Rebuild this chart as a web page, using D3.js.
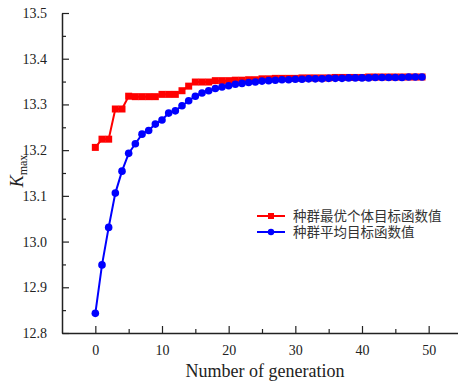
<!DOCTYPE html>
<html lang="zh">
<head>
    <meta charset="UTF-8">
    <script src="https://cdn.jsdelivr.net/npm/d3@7"></script>
    <title>Kmax convergence</title>
    <style>
        * { margin: 0; padding: 0; }
        body { background: #fff; width: 458px; height: 384px; overflow: hidden; }
        svg { display: block; }
        .tick text { font-family: "Liberation Serif", "Times New Roman", serif; font-size: 14px; fill: #222; }
    </style>
</head>
<body>
    <svg id="chart" width="458" height="384"></svg>
    <script>
      // values
      var generations = d3.range(0, 50);
      var bestValues = [
        13.206, 13.224, 13.224, 13.290, 13.290, 13.318, 13.317, 13.317, 13.317, 13.317,
        13.322, 13.322, 13.322, 13.330, 13.340, 13.349, 13.349, 13.349, 13.352, 13.352,
        13.352, 13.353, 13.353, 13.354, 13.354, 13.356, 13.356, 13.357, 13.357, 13.357,
        13.357, 13.358, 13.358, 13.358, 13.358, 13.358, 13.359, 13.359, 13.359, 13.359,
        13.359, 13.360, 13.360, 13.360, 13.360, 13.360, 13.360, 13.360, 13.360, 13.360
      ];
      var meanValues = [
        12.843, 12.949, 13.031, 13.106, 13.154, 13.193, 13.214, 13.235, 13.243, 13.257,
        13.266, 13.281, 13.286, 13.297, 13.308, 13.318, 13.325, 13.330, 13.335, 13.338,
        13.341, 13.344, 13.346, 13.348, 13.349, 13.351, 13.352, 13.353, 13.354, 13.354,
        13.355, 13.355, 13.356, 13.356, 13.356, 13.357, 13.357, 13.357, 13.358, 13.358,
        13.358, 13.358, 13.359, 13.359, 13.359, 13.359, 13.359, 13.360, 13.360, 13.360
      ];
      var xTicks = [0, 10, 20, 30, 40, 50];
      var yTicks = [12.8, 12.9, 13.0, 13.1, 13.2, 13.3, 13.4, 13.5];
      var seriesNames = ['种群最优个体目标函数值', '种群平均目标函数值'];

      var svg = d3.select('#chart');
      var plotLeft = 62, plotRight = 462, plotTop = 13, plotBottom = 333;

      var x = d3.scaleLinear().domain([-5, 55]).range([plotLeft, plotRight]);
      var y = d3.scaleLinear().domain([12.8, 13.5]).range([plotBottom, plotTop]);

      // minor ticks first, no labels
      svg.append('g')
        .attr('transform', 'translate(0,' + plotBottom + ')')
        .call(d3.axisBottom(x).tickValues([5, 15, 25, 35, 45]).tickSize(-4).tickFormat(''))
        .call(function (g) { g.select('.domain').remove(); g.selectAll('line').attr('stroke', '#222').attr('stroke-width', 1.2); });
      svg.append('g')
        .attr('transform', 'translate(' + plotLeft + ',0)')
        .call(d3.axisLeft(y).tickValues(d3.range(0, 7).map(function (i) { return 12.85 + i * 0.1; })).tickSize(-4).tickFormat(''))
        .call(function (g) { g.select('.domain').remove(); g.selectAll('line').attr('stroke', '#222').attr('stroke-width', 1.2); });

      var xAxis = svg.append('g')
        .attr('transform', 'translate(0,' + plotBottom + ')')
        .call(d3.axisBottom(x).tickValues(xTicks).tickSize(-7).tickPadding(12).tickSizeOuter(0));
      var yAxis = svg.append('g')
        .attr('transform', 'translate(' + plotLeft + ',0)')
        .call(d3.axisLeft(y).tickValues(yTicks).tickSize(-7).tickPadding(15).tickSizeOuter(0).tickFormat(d3.format('.1f')));

      [xAxis, yAxis].forEach(function (g) {
        g.select('.domain').attr('stroke', '#222').attr('stroke-width', 1.5);
        g.selectAll('.tick line').attr('stroke', '#222').attr('stroke-width', 1.2);
      });

      // axis titles
      svg.append('text')
        .attr('x', 265)
        .attr('y', 377)
        .attr('text-anchor', 'middle')
        .style('font-family', '"Liberation Serif", "Times New Roman", serif')
        .style('font-size', '18px')
        .attr('fill', '#222')
        .text('Number of generation');

      var yTitle = svg.append('text')
        .attr('transform', 'translate(23,171) rotate(-90)')
        .attr('text-anchor', 'middle')
        .style('font-family', '"Liberation Serif", "Times New Roman", serif')
        .attr('fill', '#222');
      yTitle.append('tspan').style('font-style', 'italic').style('font-size', '18px').text('K');
      yTitle.append('tspan').attr('dy', 4).style('font-size', '12px').text('max');

      var series = [
        { name: seriesNames[0], values: bestValues, color: '#ff0000', shape: 'square' },
        { name: seriesNames[1], values: meanValues, color: '#0000ff', shape: 'circle' }
      ];

      var line = d3.line()
        .x(function (d, i) { return x(generations[i]); })
        .y(function (d) { return y(d); });

      function drawMarker(sel, shape, color) {
        if (shape === 'square') {
          sel.append('rect')
            .attr('x', -3.5).attr('y', -3.5).attr('width', 7).attr('height', 7)
            .attr('fill', color);
        } else {
          sel.append('circle').attr('r', 3.8).attr('fill', color);
        }
      }

      series.forEach(function (s) {
        svg.append('path')
          .datum(s.values)
          .attr('d', line)
          .attr('fill', 'none')
          .attr('stroke', s.color)
          .attr('stroke-width', 2);
      });
      // blue drawn over red like the reference
      series.forEach(function (s) {
        s.values.forEach(function (v, i) {
          var m = svg.append('g').attr('transform', 'translate(' + x(generations[i]) + ',' + y(v) + ')');
          drawMarker(m, s.shape, s.color);
        });
      });

      // legend
      var legend = svg.append('g').attr('transform', 'translate(257,216)');
      series.forEach(function (s, i) {
        var row = legend.append('g').attr('transform', 'translate(0,' + (i * 16) + ')');
        row.append('line')
          .attr('x1', 0).attr('x2', 28)
          .attr('stroke', s.color).attr('stroke-width', 2);
        var m = row.append('g').attr('transform', 'translate(14,0)');
        if (s.shape === 'square') {
          m.append('rect').attr('x', -3).attr('y', -3).attr('width', 6).attr('height', 6).attr('fill', s.color);
        } else {
          m.append('circle').attr('r', 3.2).attr('fill', s.color);
        }
        row.append('text')
          .attr('x', 36)
          .attr('y', 5)
          .style('font-family', '"Noto Sans CJK SC", sans-serif')
          .style('font-size', '13.5px')
          .attr('fill', '#333')
          .text(s.name);
      });
    </script>
</body>
</html>
